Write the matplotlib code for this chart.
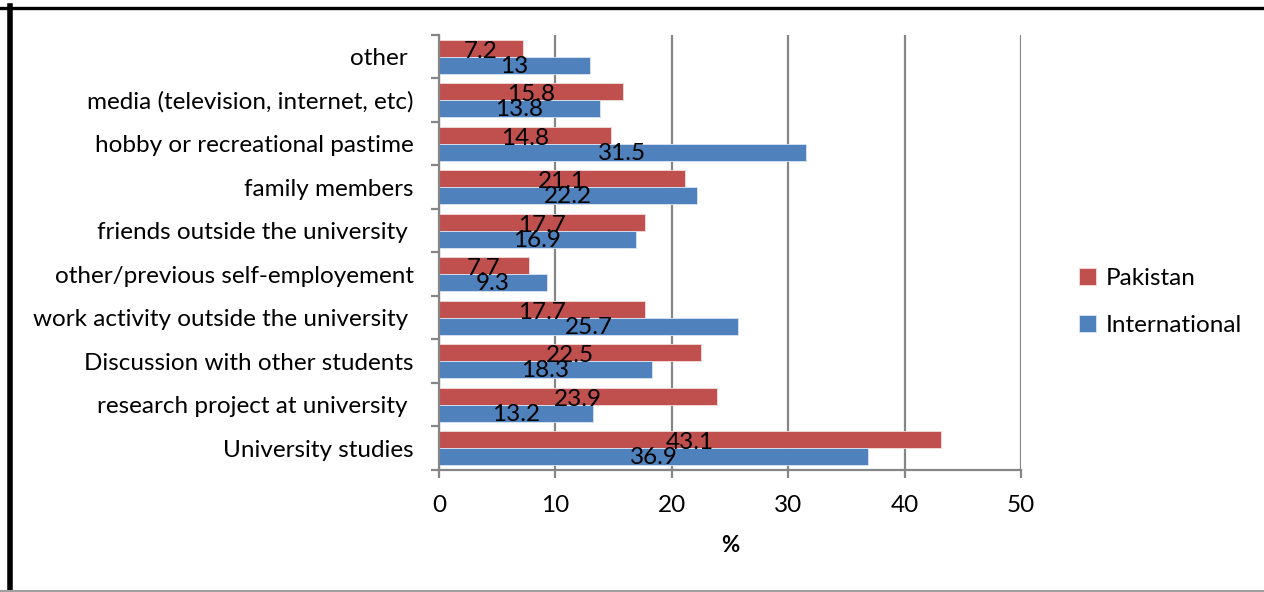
import numpy as np
import matplotlib.pyplot as plt
from matplotlib.lines import Line2D

plt.rcParams['font.family'] = ['Lato', 'DejaVu Sans']

# categories listed bottom to top
categories = ['University studies', 'research project at university ',
              'Discussion with other students', 'work activity outside the university ',
              'other/previous self-employement', 'friends outside the university ',
              'family members', 'hobby or recreational pastime',
              'media (television, internet, etc)', 'other ']
pakistan = [43.1, 23.9, 22.5, 17.7, 7.7, 17.7, 21.1, 14.8, 15.8, 7.2]
international = [36.9, 13.2, 18.3, 25.7, 9.3, 16.9, 22.2, 31.5, 13.8, 13]

RED = '#C0504D'
BLUE = '#4F81BD'
GRID = '#868686'
FS = 17.5

fig = plt.figure(figsize=(12.64, 5.92), dpi=100)
ax = fig.add_axes([0.3473, 0.2061, 0.4604, 0.7348])

y = np.arange(len(categories))
h = 0.39
b_pk = ax.barh(y + h / 2, pakistan, height=h, color=RED, edgecolor='#f2dcdb', linewidth=0.6, label='Pakistan')
b_in = ax.barh(y - h / 2, international, height=h, color=BLUE, edgecolor='#dbe5f1', linewidth=0.6, label='International')

for bars, vals, dy in ((b_pk, pakistan, -0.07), (b_in, international, -0.02)):
    for rect, v in zip(bars, vals):
        ax.text(v / 2, rect.get_y() + rect.get_height() / 2 + dy, f'{v:g}',
                ha='center', va='center', fontsize=FS, color='black')

ax.set_xlim(0, 50)
ax.set_ylim(-0.5, len(categories) - 0.5)
ax.set_xticks(range(0, 51, 10))
ax.xaxis.grid(True, color=GRID, linewidth=1.6)
ax.set_axisbelow(True)

# category labels centred, ticks on the boundaries
ax.set_yticks(y)
ax.set_yticklabels(categories)
ax.set_yticks(np.arange(-0.5, len(categories)), minor=True)
ax.tick_params(axis='y', which='major', length=0, pad=18, labelsize=FS)
ax.tick_params(axis='y', which='minor', length=6, width=1.6, color=GRID)
ax.tick_params(axis='x', length=6, width=1.6, color=GRID, labelsize=FS, pad=12)

for side in ('top', 'right'):
    ax.spines[side].set_visible(False)
for side in ('left', 'bottom'):
    ax.spines[side].set_color(GRID)
    ax.spines[side].set_linewidth(1.6)

ax.set_xlabel('%', fontsize=16, fontweight='bold', labelpad=14)

fig.legend(loc='center left', bbox_to_anchor=(0.836, 0.49),
           frameon=False, fontsize=FS, handlelength=0.7, handleheight=0.7,
           handletextpad=0.4, labelspacing=1.1)

# page frame around the chart
fig.add_artist(Line2D([0, 1], [1 - 7.5 / 592] * 2, color='black', linewidth=2.4,
                      transform=fig.transFigure))
fig.add_artist(Line2D([10.5 / 1264] * 2, [0, 1 - 6 / 592], color='black', linewidth=4,
                      transform=fig.transFigure))
fig.add_artist(Line2D([0, 1], [0.8 / 592] * 2, color='#a0a0a0', linewidth=1.5,
                      transform=fig.transFigure))

fig.savefig('out.png', dpi=100)
